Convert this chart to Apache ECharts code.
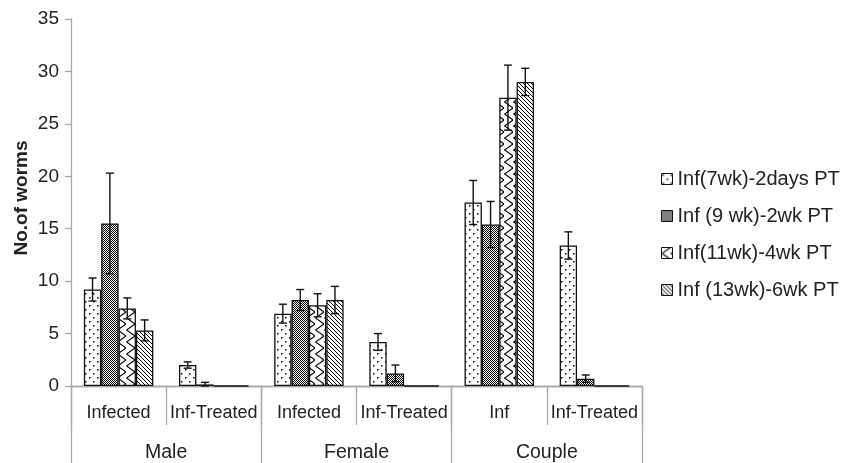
<!DOCTYPE html>
<html>
<head>
<meta charset="utf-8">
<script src="https://cdn.jsdelivr.net/npm/echarts@6/dist/echarts.min.js"></script>
<style>html,body{margin:0;padding:0;background:#fff}#c{width:856px;height:463px}</style>
</head>
<body>
<div id="c"></div>
<script>
// ---- data ----
const subCategories = ['Infected', 'Inf-Treated', 'Infected', 'Inf-Treated', 'Inf', 'Inf-Treated'];
const groupCategories = ['Male', 'Female', 'Couple'];
const seriesNames = ['Inf(7wk)-2days PT', 'Inf (9 wk)-2wk PT', 'Inf(11wk)-4wk PT', 'Inf (13wk)-6wk PT'];
const yTitle = 'No.of worms';
const s1 = [9.2, 2.0, 6.9, 4.2, 17.5, 13.4];
const s2 = [15.5, 0.15, 8.2, 1.2, 15.4, 0.7];
const s3 = [7.4, 0, 7.7, 0, 27.5, 0];
const s4 = [5.3, 0, 8.2, 0, 29.0, 0];
const e1 = [1.1, 0.3, 0.9, 0.8, 2.1, 1.3];
const e2 = [4.8, 0.2, 1.0, 0.8, 2.2, 0.35];
const e3 = [1.0, 0, 1.1, 0, 3.1, 0];
const e4 = [1.0, 0, 1.3, 0, 1.3, 0];
const yTicks = [0, 5, 10, 15, 20, 25, 30, 35];

const values = [s1, s2, s3, s4];
const errors = [e1, e2, e3, e4];

// ---- patterns ----
function tile(w, h, draw) {
  const c = document.createElement('canvas');
  c.width = w; c.height = h;
  const g = c.getContext('2d');
  g.fillStyle = '#fff'; g.fillRect(0, 0, w, h);
  g.fillStyle = '#000'; g.strokeStyle = '#000';
  draw(g);
  return { image: c, repeat: 'repeat' };
}
const patDots = tile(8, 8, g => { g.fillRect(1, 1, 1.5, 1.5); g.fillRect(5, 5, 1.5, 1.5); });
const patCheck = tile(2, 2, g => { g.fillRect(0, 0, 1, 1); g.fillRect(1, 1, 1, 1); });
const patZig = tile(9, 12, g => {
  g.lineWidth = 1.1; g.beginPath(); g.moveTo(9, 0); g.lineTo(0.5, 6); g.lineTo(9, 12); g.stroke();
});
const patDiag = tile(4, 4, g => { for (let i = 0; i < 4; i++) g.fillRect(i, i, 1, 1); });
const patterns = [patDots, patCheck, patZig, patDiag];

const GAP = 0.27;
const font = "'Liberation Sans', Arial, sans-serif";
const axisGray = '#a8a8a8';
const textColor = '#222';

const series = [];
values.forEach((v, si) => {
  series.push({
    name: seriesNames[si], type: 'bar', data: v, xAxisIndex: 0,
    barGap: '0%', barCategoryGap: (GAP * 100) + '%',
    itemStyle: { color: patterns[si], borderColor: '#111', borderWidth: 1.3 },
    z: 2
  });
});
values.forEach((v, si) => {
  series.push({
    name: 'err' + si, type: 'custom', xAxisIndex: 0, z: 5,
    data: v.map((val, i) => [i, val, errors[si][i]]),
    encode: { x: 0, y: 1 },
    renderItem: function (params, api) {
      const ci = api.value(0), val = api.value(1), e = api.value(2);
      if (!(e > 0)) return;
      const band = api.size([1, 0])[0];
      const group = band * (1 - GAP);
      const bw = group / 4;
      const cx = api.coord([ci, val])[0] - group / 2 + (si + 0.5) * bw;
      const yT = api.coord([ci, val + e])[1];
      const yB = api.coord([ci, Math.max(val - e, 0)])[1];
      const hw = 4;
      const st = { stroke: '#111', lineWidth: 1.4, fill: null };
      return {
        type: 'group', children: [
          { type: 'line', shape: { x1: cx, y1: yT, x2: cx, y2: yB }, style: st },
          { type: 'line', shape: { x1: cx - hw, y1: yT, x2: cx + hw, y2: yT }, style: st },
          { type: 'line', shape: { x1: cx - hw, y1: yB, x2: cx + hw, y2: yB }, style: st }
        ]
      };
    }
  });
});

const chart = echarts.init(document.getElementById('c'), null, { renderer: 'canvas' });
chart.setOption({
  animation: false,
  backgroundColor: '#fff',
  textStyle: { fontFamily: font },
  grid: { left: 71, right: 214, top: 19, bottom: 77, containLabel: false, outerBoundsMode: 'none' },
  legend: {
    data: seriesNames, orient: 'vertical', left: 661, top: 169, padding: 0,
    icon: 'rect', itemWidth: 11, itemHeight: 11, itemGap: 17,
    textStyle: { fontSize: 20, color: textColor, fontFamily: font },
    itemStyle: { borderColor: '#111', borderWidth: 1 }
  },
  graphic: [{
    type: 'text', x: 22, y: 198, rotation: Math.PI / 2,
    style: { text: yTitle, fontSize: 19, fontWeight: 'bold', fill: textColor, fontFamily: font,
             align: 'center', verticalAlign: 'middle' }
  }],
  xAxis: [
    {
      type: 'category', data: subCategories, position: 'bottom',
      axisLine: { show: true, lineStyle: { color: axisGray, width: 1.3 } },
      axisTick: { show: true, interval: 0, length: 39, lineStyle: { color: axisGray, width: 1.3 } },
      axisLabel: { interval: 0, margin: 18, fontSize: 18, color: textColor, fontFamily: font }
    },
    {
      type: 'category', data: groupCategories, position: 'bottom',
      axisLine: { show: true, lineStyle: { color: axisGray, width: 1.3 } },
      axisTick: { show: true, interval: 0, length: 77, lineStyle: { color: axisGray, width: 1.3 } },
      axisLabel: { interval: 0, margin: 57, fontSize: 19.5, color: textColor, fontFamily: font }
    }
  ],
  yAxis: {
    type: 'value', min: yTicks[0], max: yTicks[yTicks.length - 1], interval: yTicks[1] - yTicks[0],
    axisLine: { show: true, lineStyle: { color: axisGray, width: 1.3 } },
    axisTick: { show: true, length: 6, lineStyle: { color: axisGray, width: 1.3 } },
    axisLabel: { margin: 12, fontSize: 19, color: textColor, fontFamily: font },
    splitLine: { show: false }
  },
  series: series
});
</script>
</body>
</html>
